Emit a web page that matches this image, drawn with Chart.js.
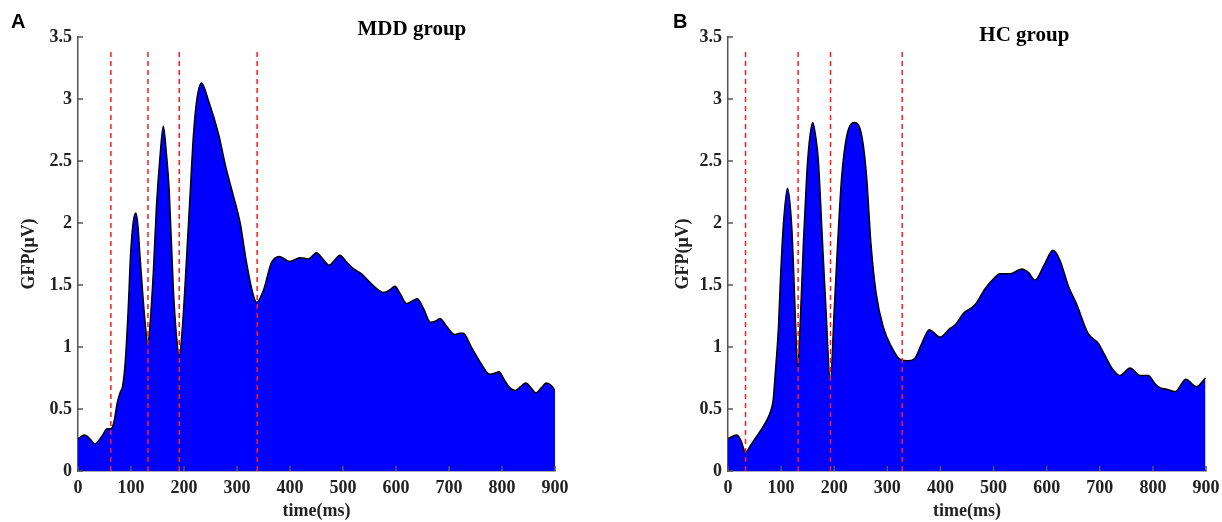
<!DOCTYPE html>
<html>
<head>
<meta charset="utf-8">
<script src="https://cdn.jsdelivr.net/npm/chart.js@4/dist/chart.umd.min.js"></script>
<style>
  html, body { margin: 0; padding: 0; background: #fff; }
  .panel { position: absolute; top: 0; width: 611px; height: 522px; }
  #panelA { left: 0; }
  #panelB { left: 611px; }
</style>
</head>
<body>
<div class="panel" id="panelA"><canvas id="chartMDD"></canvas></div>
<div class="panel" id="panelB"><canvas id="chartHC"></canvas></div>
<script>
// GFP (µV) over time (ms)
const mddTime = [0, 12, 20, 32, 45, 55, 62, 68, 74, 80, 84, 89, 95, 99, 104, 109, 113, 117, 123, 128,
  131.5, 136, 142, 148, 155, 161, 167, 172, 180, 186, 191, 197.5, 205, 211, 218, 224, 233, 246, 265, 279,
  290, 306, 318, 330, 337, 350, 365, 380, 399, 419, 435, 450, 462, 474, 484, 494, 506, 520, 535, 556,
  577, 588, 598, 608, 620, 630, 640, 652, 665, 675, 683, 695, 711, 720, 727, 742, 760, 777, 787, 794,
  805, 815, 825, 835, 845, 855, 864, 874, 884, 893, 900];
const mddGfp = [0.26, 0.29, 0.27, 0.22, 0.28, 0.34, 0.34, 0.40, 0.55, 0.64, 0.68, 0.87, 1.33, 1.73, 2.00, 2.08, 1.98, 1.73, 1.38, 1.14,
  1.02, 1.19, 1.59, 2.13, 2.55, 2.78, 2.55, 2.27, 1.46, 1.08, 0.93, 1.19, 1.73, 2.19, 2.72, 2.99, 3.13, 2.99, 2.72, 2.45,
  2.27, 2.00, 1.68, 1.43, 1.36, 1.46, 1.68, 1.73, 1.69, 1.72, 1.71, 1.76, 1.71, 1.66, 1.70, 1.74, 1.69, 1.63, 1.59, 1.50,
  1.44, 1.46, 1.49, 1.43, 1.35, 1.37, 1.39, 1.31, 1.20, 1.21, 1.23, 1.17, 1.10, 1.11, 1.11, 1.00, 0.87, 0.78, 0.79, 0.80,
  0.73, 0.67, 0.65, 0.68, 0.71, 0.67, 0.63, 0.67, 0.71, 0.69, 0.65];

const hcTime = [0, 16, 24, 33, 43, 54, 65, 73, 80, 85, 88.5, 95, 99, 104, 112, 120, 124, 127.5, 131, 135.6,
  142, 148, 153, 159.5, 165, 170, 178, 184.5, 192.7, 200, 206.5, 214, 223.5, 238, 252, 261, 269, 279, 292.5, 308,
  324, 340, 352, 365, 379, 399, 418, 428, 443, 465, 484, 500, 512, 531, 553, 566, 578, 595, 612, 625,
  641, 656, 678, 697, 710, 723, 738, 757, 776, 791, 805, 814, 826, 842, 862, 882, 899];
const hcGfp = [0.26, 0.29, 0.25, 0.15, 0.21, 0.28, 0.35, 0.41, 0.48, 0.57, 0.76, 1.16, 1.57, 1.97, 2.28, 1.97, 1.57, 1.16, 0.83, 1.16,
  1.84, 2.37, 2.65, 2.81, 2.70, 2.51, 1.84, 1.30, 0.73, 1.30, 1.84, 2.37, 2.70, 2.81, 2.70, 2.37, 1.84, 1.43, 1.16, 1.00,
  0.90, 0.89, 0.91, 1.03, 1.14, 1.08, 1.15, 1.18, 1.27, 1.34, 1.47, 1.55, 1.59, 1.59, 1.63, 1.60, 1.54, 1.66, 1.78, 1.70,
  1.49, 1.35, 1.11, 1.03, 0.93, 0.83, 0.77, 0.83, 0.77, 0.77, 0.70, 0.67, 0.66, 0.64, 0.74, 0.68, 0.75];

// red dashed markers (ms) and how high they reach
const mddMarkers = [62, 132, 191, 338];
const hcMarkers = [33, 132, 193, 328];
const markerTop = 3.4;

const xTicks = [0, 100, 200, 300, 400, 500, 600, 700, 800, 900];
const yTicks = [0, 0.5, 1, 1.5, 2, 2.5, 3, 3.5];

const serif = '"Liberation Serif", "Times New Roman", serif';
const axisGrey = '#555';

// panel letter, group title and inward tick marks
const panelText = {
  id: 'panelText',
  afterDraw(chart, args, opts) {
    const ctx = chart.ctx;
    const area = chart.chartArea;
    const xs = chart.scales.x, ys = chart.scales.y;
    ctx.save();
    ctx.strokeStyle = axisGrey;
    ctx.lineWidth = 1.5;
    ctx.beginPath();
    xTicks.forEach(v => {
      const px = xs.getPixelForValue(v);
      ctx.moveTo(px, area.bottom);
      ctx.lineTo(px, area.bottom - 5);
    });
    yTicks.forEach(v => {
      const py = ys.getPixelForValue(v);
      ctx.moveTo(area.left, py);
      ctx.lineTo(area.left + 5, py);
    });
    ctx.stroke();

    ctx.fillStyle = '#000';
    ctx.textBaseline = 'middle';
    ctx.font = 'bold 20px "Liberation Sans", Arial, sans-serif';
    ctx.textAlign = 'left';
    ctx.fillText(opts.letter, opts.letterX, 22);
    ctx.font = 'bold 21px ' + serif;
    ctx.textAlign = 'center';
    ctx.fillText(opts.title, area.left + (area.right - area.left) * opts.titleFrac, opts.titleY);
    ctx.restore();
  }
};

const makeChart = (canvasId, times, values, markers, cfg) => {
  const datasets = markers.map(m => ({
    data: [{ x: m, y: 0 }, { x: m, y: markerTop }],
    borderColor: '#ff1a1a',
    borderWidth: 1.5,
    borderDash: [5, 4],
    pointRadius: 0,
    fill: false,
    order: 0
  }));
  datasets.push({
    data: times.map((t, i) => ({ x: t, y: values[i] })),
    borderColor: '#000',
    borderWidth: 1.5,
    backgroundColor: '#0000ff',
    fill: 'origin',
    pointRadius: 0,
    cubicInterpolationMode: 'monotone',
    order: 1
  });

  const tickFont = { family: serif, size: 18, weight: 'bold' };

  return new Chart(document.getElementById(canvasId), {
    type: 'line',
    data: { datasets },
    plugins: [panelText],
    options: {
      responsive: true,
      maintainAspectRatio: false,
      animation: false,
      devicePixelRatio: 1,
      layout: { padding: { top: 37, right: cfg.padRight, left: 0, bottom: 0 } },
      plugins: {
        legend: { display: false },
        tooltip: { enabled: false },
        panelText: { letter: cfg.letter, letterX: cfg.letterX, title: cfg.title, titleFrac: cfg.titleFrac, titleY: cfg.titleY }
      },
      scales: {
        x: {
          type: 'linear',
          min: xTicks[0],
          max: xTicks[xTicks.length - 1],
          afterBuildTicks: s => { s.ticks = xTicks.map(v => ({ value: v })); },
          afterFit: s => { s.height = 51; s.paddingLeft = 0; s.paddingRight = 0; },
          border: { color: axisGrey, width: 1.5 },
          grid: { display: false, drawTicks: false, tickLength: 0 },
          ticks: { color: '#222', padding: 7, font: tickFont, callback: v => String(v) },
          title: { display: true, text: 'time(ms)', color: '#222', padding: { top: 0, bottom: 0 }, font: tickFont }
        },
        y: {
          min: yTicks[0],
          max: yTicks[yTicks.length - 1],
          afterBuildTicks: s => { s.ticks = yTicks.map(v => ({ value: v })); },
          afterFit: s => { s.width = cfg.yWidth; s.paddingTop = 0; s.paddingBottom = 0; },
          border: { color: axisGrey, width: 1.5 },
          grid: { display: false, drawTicks: false, tickLength: 0 },
          ticks: { color: '#222', padding: 6, font: tickFont, callback: v => String(v) },
          title: { display: true, text: 'GFP(μV)', color: '#222', padding: { top: cfg.yTitlePad, bottom: 0 }, font: tickFont }
        }
      }
    }
  });
};

makeChart('chartMDD', mddTime, mddGfp, mddMarkers,
  { letter: 'A', letterX: 11, title: 'MDD group', titleFrac: 0.70, titleY: 30, padRight: 56, yWidth: 78, yTitlePad: 19 });
makeChart('chartHC', hcTime, hcGfp, hcMarkers,
  { letter: 'B', letterX: 62, title: 'HC group', titleFrac: 0.62, titleY: 36, padRight: 16, yWidth: 117, yTitlePad: 62 });
</script>
</body>
</html>
